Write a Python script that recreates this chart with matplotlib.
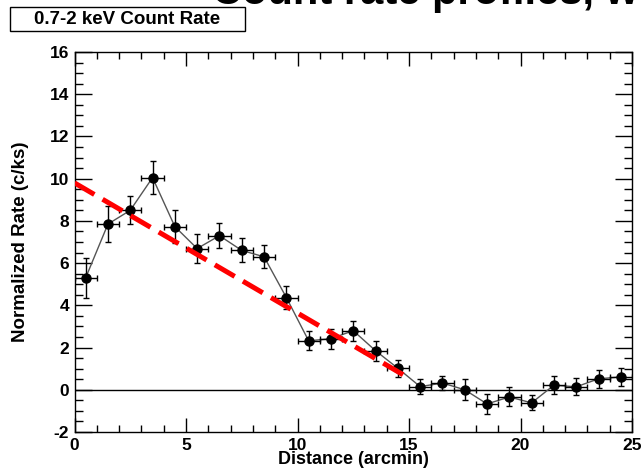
import matplotlib
matplotlib.use("Agg")
import matplotlib.pyplot as plt
from matplotlib.patches import Rectangle
from matplotlib.ticker import MultipleLocator

plt.rcParams["axes.unicode_minus"] = False

W, H = 641, 469
FONT = "Liberation Sans"

# Data: 1-arcmin bins
distance = [0.5, 1.5, 2.5, 3.5, 4.5, 5.5, 6.5, 7.5, 8.5, 9.5, 10.5, 11.5, 12.5,
            13.5, 14.5, 15.5, 16.5, 17.5, 18.5, 19.5, 20.5, 21.5, 22.5, 23.5, 24.5]
rate = [5.3, 7.85, 8.5, 10.05, 7.73, 6.69, 7.3, 6.6, 6.3, 4.37, 2.32, 2.42, 2.8,
        1.85, 1.02, 0.15, 0.32, 0.0, -0.67, -0.34, -0.62, 0.22, 0.14, 0.52, 0.61]
rate_err = [0.93, 0.84, 0.67, 0.8, 0.79, 0.69, 0.59, 0.57, 0.55, 0.54, 0.45, 0.48, 0.47,
            0.47, 0.4, 0.34, 0.34, 0.5, 0.47, 0.45, 0.36, 0.41, 0.41, 0.44, 0.43]
dist_err = [0.5] * len(distance)

# linear trend (red dashed)
fit_x = [0.0, 15.0]
fit_y = [9.8, 0.55]

fig = plt.figure(figsize=(W / 100, H / 100), dpi=100)
fig.patch.set_facecolor("white")
ax = fig.add_axes([74.5 / W, 1 - 432 / H, (632 - 74.5) / W, (432 - 52) / H])

ax.axhline(0, color="black", lw=1.0, zorder=1)
ax.plot(distance, rate, color="#555555", lw=1.0, zorder=2)
ax.errorbar(distance, rate, yerr=rate_err, xerr=dist_err, fmt="o",
            color="black", ms=6.5, elinewidth=1.0, capsize=2.2, capthick=1.0,
            ecolor="black", zorder=3)
red, = ax.plot(fit_x, fit_y, color="#ff0000", lw=3.6, zorder=4,
               solid_capstyle="butt", dash_capstyle="butt")
red.set_dashes((4.6, 1.9))

ax.set_xlim(0, 25)
ax.set_ylim(-2, 16)
ax.xaxis.set_major_locator(MultipleLocator(5))
ax.xaxis.set_minor_locator(MultipleLocator(1))
ax.yaxis.set_major_locator(MultipleLocator(2))
ax.yaxis.set_minor_locator(MultipleLocator(0.5))
ax.tick_params(axis="both", which="both", direction="in",
               top=True, right=True, width=1.0, color="black")
ax.tick_params(axis="x", which="major", length=10, pad=4)
ax.tick_params(axis="x", which="minor", length=5)
ax.tick_params(axis="y", which="major", length=12, pad=4)
ax.tick_params(axis="y", which="minor", length=6)
for lab in ax.get_xticklabels() + ax.get_yticklabels():
    lab.set_fontfamily(FONT)
    lab.set_fontweight("bold")
    lab.set_fontsize(12.5)
for sp in ax.spines.values():
    sp.set_linewidth(1.0)

ax.set_xlabel("Distance (arcmin)", fontfamily=FONT, fontweight="bold",
              fontsize=13, labelpad=-1)
ax.set_ylabel("Normalized Rate (c/ks)", fontfamily=FONT, fontweight="bold",
              fontsize=13.5, labelpad=15)

# big title, cut at the top edge
fig.text(212 / W, 1 - 4 / H, "Count rate profiles, w", fontfamily=FONT,
         fontweight="bold", fontsize=30, ha="left", va="baseline")

# label box
fig.patches.append(Rectangle((10 / W, 1 - 31 / H), 235 / W, 24 / H,
                             transform=fig.transFigure, fc="white",
                             ec="black", lw=1.0))
fig.text(127.5 / W, 1 - 19 / H, "0.7-2 keV Count Rate", fontfamily=FONT,
         fontweight="bold", fontsize=13.5, ha="center", va="center")

fig.savefig("out.png", dpi=100)
